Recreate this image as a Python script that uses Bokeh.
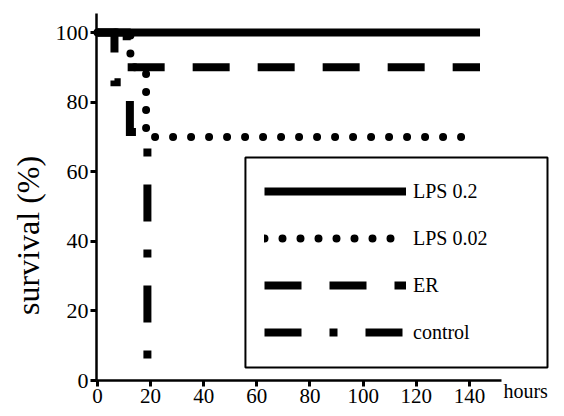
import math
from bokeh.plotting import figure
from bokeh.models import Range1d, Legend, LegendItem, Label, BoxAnnotation
from bokeh.embed import file_html
from bokeh.resources import INLINE

# ---- data ----
series_names = ["LPS 0.2", "LPS 0.02", "ER", "control"]
lps02_hours = [0, 144]
lps02_surv = [100, 100]
lps002_hours = [0, 12.4, 18.3, 140]
lps002_surv = [100, 90, 70, 70]
er_hours = [0, 11, 144]
er_surv = [100, 90, 90]
ctrl_hours = [0, 6.4, 12.2, 18.8]
ctrl_surv = [100, 85.7, 71.4, 0]
x_ticks = [0, 20, 40, 60, 80, 100, 120, 140]
y_ticks = [0, 20, 40, 60, 80, 100]

FONT = "serif"


def step_path(xs, ys):
    """Kaplan-Meier style step: hold value until next time, then drop."""
    px, py = [xs[0]], [ys[0]]
    for i in range(1, len(xs)):
        px.append(xs[i]); py.append(ys[i - 1])
        px.append(xs[i]); py.append(ys[i])
    return px, py


# The plotting frame fills the whole canvas; axes are pinned at x=0 / y=0 so
# that the outer texts (axis title, "hours") lie inside the frame.
p = figure(width=564, height=416, output_backend="svg", toolbar_location=None,
           x_range=Range1d(-36.5, 175.8), y_range=Range1d(-10.34, 109.2),
           min_border_left=0, min_border_right=0, min_border_top=0,
           min_border_bottom=0)
p.outline_line_color = None
p.xgrid.visible = False
p.ygrid.visible = False
p.background_fill_color = "white"
p.border_fill_color = "white"

for ax in (p.xaxis[0], p.yaxis[0]):
    ax.axis_line_width = 2.5
    ax.axis_line_color = "black"
    ax.major_tick_out = 6
    ax.major_tick_in = 0
    ax.major_tick_line_width = 3
    ax.minor_tick_out = 0
    ax.minor_tick_in = 0
    ax.major_label_text_color = "black"
    ax.major_label_standoff = 2
    ax.major_label_text_font = FONT
p.xaxis.ticker = x_ticks
p.yaxis.ticker = y_ticks
p.xaxis.fixed_location = 0
p.yaxis.fixed_location = -0.4
p.xaxis.bounds = (-0.4, 152)
p.yaxis.bounds = (0, 105.5)
p.xaxis.major_label_text_font_size = "21px"
p.yaxis.major_label_text_font_size = "22px"

W = 8
cx, cy = step_path(ctrl_hours, ctrl_surv)
r_ctrl = p.line(cx, cy, line_color="black", line_width=W, line_dash="37 28 8 28",
                line_cap="butt", line_join="miter")
ex, ey = step_path(er_hours, er_surv)
r_er = p.line(ex, ey, line_color="black", line_width=W, line_dash="37 28",
              line_cap="butt", line_join="miter")
dx, dy = step_path(lps002_hours, lps002_surv)
r_dot = p.line(dx, dy, line_color="black", line_width=W, line_dash="0 18",
               line_cap="round", line_join="round")
sx, sy = step_path(lps02_hours, lps02_surv)
r_solid = p.line(sx, sy, line_color="black", line_width=W, line_cap="butt")

# legend frame
p.add_layout(BoxAnnotation(left=55.7, right=169.4, bottom=3.74, top=64.1,
                           fill_color="white", fill_alpha=1,
                           line_color="black", line_alpha=1, line_width=2,
                           level="overlay"))

legend = Legend(items=[
    LegendItem(label=series_names[0], renderers=[r_solid]),
    LegendItem(label=series_names[1], renderers=[r_dot]),
    LegendItem(label=series_names[2], renderers=[r_er]),
    LegendItem(label=series_names[3], renderers=[r_ctrl]),
], location=(264, 70))
legend.glyph_width = 142
legend.glyph_height = 28
legend.label_height = 28
legend.spacing = 19
legend.padding = 0
legend.margin = 0
legend.label_standoff = 7
legend.border_line_color = None
legend.background_fill_alpha = 0
legend.label_text_font = FONT
legend.label_text_font_size = "20px"
legend.label_text_color = "black"
p.add_layout(legend)

ylab = Label(x=-26.3, y=41.7, text="survival (%)",
             angle=math.pi / 2, text_align="center", text_baseline="middle",
             text_font=FONT, text_font_size="32px", text_color="black")
p.add_layout(ylab)
xlab = Label(x=152.8, y=-3.0, text="hours",
             text_align="left", text_baseline="middle",
             text_font=FONT, text_font_size="20px", text_color="black")
p.add_layout(xlab)

open("out.html", "w").write(file_html(p, INLINE))
